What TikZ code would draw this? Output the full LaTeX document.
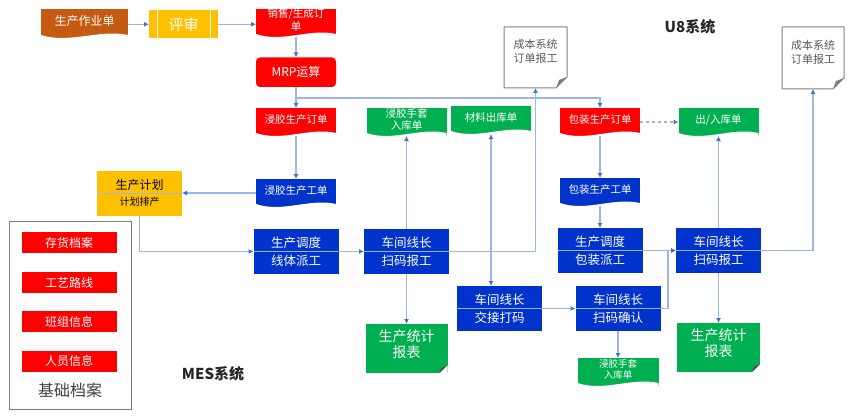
\documentclass[tikz,border=0pt]{standalone}
\usepackage{fontspec}
\setmainfont{Noto Sans CJK SC}
\usepackage{xcolor}
\usetikzlibrary{arrows.meta,calc,positioning}

\definecolor{brownfill}{HTML}{C55A11}
\definecolor{amberfill}{HTML}{FFC000}
\definecolor{redfill}{HTML}{FF0000}
\definecolor{bluefill}{HTML}{0033CC}
\definecolor{greenfill}{HTML}{00B050}
\definecolor{linkblue}{HTML}{9DB7E4}
\definecolor{tipblue}{HTML}{4472C4}
\definecolor{edgegray}{HTML}{7F7F7F}

\newcommand{\fsz}[1]{\fontsize{#1}{#1}\selectfont}

\begin{document}
\begin{tikzpicture}[
    x=1pt, y=-1pt,
    inner sep=0pt, outer sep=0pt,
    card/.style={rectangle, align=center, text=white, font=\fsz{10.5}, minimum width=80pt, minimum height=28pt},
    wavecard/.style={card, text depth=6pt, path picture={
        \coordinate (sw) at (path picture bounding box.south west);
        \coordinate (se) at (path picture bounding box.south east);
        \fill[white] ([yshift=3pt]sw) .. controls ($(sw)!.33!(se)+(0,6)$) and ($(sw)!.67!(se)+(0,-9)$) .. ([yshift=3pt]se) -- (se) -- (sw) -- cycle;
    }},
    twoline/.style={rectangle, align=center, text=white, font=\fsz{12.5}, fill=bluefill, minimum width=85pt, minimum height=45pt, path picture={
        \draw[linkblue, line width=1pt] (path picture bounding box.west) -- (path picture bounding box.east);
    }},
    report/.style={rectangle, align=center, text=white, font=\fsz{14}, text depth=9pt, fill=greenfill, minimum width=83pt, minimum height=49pt, path picture={
        \coordinate (se) at (path picture bounding box.south east);
        \fill[white] ([yshift=8pt]se) -- ([xshift=-8pt]se) -- (se) -- cycle;
        \fill[black!70] ([yshift=8pt]se) -- ([xshift=-8pt]se) -- ([xshift=-6pt,yshift=5pt]se) -- cycle;
    }},
    archive/.style={rectangle, text=white, font=\fsz{12}, fill=redfill, minimum width=95pt, minimum height=21pt},
    costnote/.style={rectangle, align=center, text=black!65, font=\fsz{11}, text depth=13pt, minimum width=63pt, minimum height=61pt},
    link/.style={linkblue, line width=1.3pt, -{Latex[length=5pt,width=5pt,color=tipblue]}},
    title/.style={font=\fsz{15}\bfseries, text=black!85}
]
    % Top row
    \node[wavecard, fill=brownfill, minimum width=87pt, minimum height=29pt, font=\fsz{12}] (prodjob) at (84.5,23.5) {生产作业单};
    \node[card, fill=amberfill, minimum width=69pt, minimum height=28.5pt, font=\fsz{15}] (review) at (183.5,24.25) {评审};
    \draw[white, line width=0.8pt] ([xshift=8.5pt]review.north west) -- ([xshift=8.5pt]review.south west);
    \draw[white, line width=0.8pt] ([xshift=-8pt]review.north east) -- ([xshift=-8pt]review.south east);
    \node[wavecard, fill=redfill] (sales) at (296,23) {销售/生成订\\[1.5pt]单};

    % Left column
    \node[card, fill=redfill, rounded corners=4pt, font=\fsz{12}, minimum height=29.5pt, below=20.5pt of sales] (mrp) {MRP运算};
    \node[wavecard, fill=redfill, below=21pt of mrp] (diporder) {浸胶生产订单};
    \node[wavecard, fill=bluefill, below=43pt of diporder] (dipjob) {浸胶生产工单};
    \node[twoline, fill=amberfill, text=black] (plan) at (139.5,193) {\fsz{12}生产计划\\[4pt]\fsz{10}计划排产};
    \node[twoline, below=22pt of dipjob] (sched1) {生产调度\\[6pt]线体派工};

    % Dipping line
    \node[twoline, right=25.5pt of sched1] (lead1) {车间线长\\[6pt]扫码报工};
    \node[wavecard, fill=greenfill] (dipstock) at (406.5,122) {浸胶手套\\[1.5pt]入库单};
    \node[report, minimum width=82pt, below=50pt of lead1] (stat1) {生产统计\\[2pt]报表};
    \node[wavecard, fill=greenfill] (material) at (491,120) {材料出库单};
    \node[twoline] (handover) at (499.5,308.5) {车间线长\\[6pt]交接打码};
    \node[twoline, right=33.5pt of handover] (confirm) {车间线长\\[6pt]扫码确认};
    \node[wavecard, fill=greenfill, font=\fsz{9.5}, minimum width=81pt] (lowstock) at (618,372) {浸胶手套\\[2pt]入库单};

    % Packing line
    \node[wavecard, fill=redfill] (packorder) at (600,122) {包装生产订单};
    \node[wavecard, fill=bluefill, below=42pt of packorder] (packjob) {包装生产工单};
    \node[twoline, below=22pt of packjob] (sched2) {生产调度\\[6pt]包装派工};
    \node[twoline] (lead2) at (718.5,250.5) {车间线长\\[6pt]扫码报工};
    \node[wavecard, fill=greenfill] (stock) at (718.5,122) {出/入库单};
    \node[report, below=50pt of lead2] (stat2) {生产统计\\[2pt]报表};

    % Cost notes
    \node[costnote] (cost1) at (535.5,57.5) {成本系统\\[3pt]订单报工};
    \node[costnote, minimum width=62pt, minimum height=62pt] (cost2) at (813,58) {成本系统\\[3pt]订单报工};
    \foreach \n in {cost1,cost2} {
        \draw[edgegray, line width=1pt, line join=round] (\n.north west) -- (\n.north east) -- ([yshift=11pt]\n.south east) -- ([xshift=-11pt]\n.south east) -- (\n.south west) -- cycle;
        \fill[edgegray] ([yshift=11pt]\n.south east) -- ([xshift=-11pt]\n.south east) -- ([xshift=-8pt,yshift=8pt]\n.south east) -- cycle;
    }

    % Base data
    \node[rectangle, draw=edgegray, line width=1pt, minimum width=121.5pt, minimum height=187.5pt] (base) at (70.25,315.25) {};
    \node[archive] (stockfile) at (69,242.5) {存货档案};
    \node[archive, below=19pt of stockfile] (routefile) {工艺路线};
    \node[archive, below=18pt of routefile] (teamfile) {班组信息};
    \node[archive, below=18.5pt of teamfile] (staff) {人员信息};
    \node[font=\fsz{16}, text=black!75] (basetitle) at (70,390) {基础档案};

    % System titles
    \node[title] (u8) at (690,27) {U8系统};
    \node[title] (mes) at (213,374) {MES系统};

    % Connectors
    \coordinate (branch) at (296,98);
    \draw[link] (prodjob.east |- review.west) -- (review.west);
    \draw[link] (review.east) -- (sales.west |- review.east);
    \draw[link] (sales.south) -- (mrp.north);
    \draw[link] (mrp.south) -- (diporder.north);
    \draw[link] (branch) -| (packorder.north);
    \draw[link] (diporder.south) -- (dipjob.north);
    \draw[link] (dipjob.west) -- (plan.east);
    \draw[link] (plan.south) |- (sched1.west);
    \draw[link] (sched1.east) -- (lead1.west);
    \draw[link] (lead1.north) -- (dipstock.south);
    \draw[link] (lead1.south) -- (stat1.north);
    \draw[link] (lead1.east) -| (cost1.south);
    \draw[link, {Latex[length=5pt,width=5pt,color=tipblue]}-{Latex[length=5pt,width=5pt,color=tipblue]}] (material.south) -- (material.south |- handover.north);
    \draw[link] (handover.east) -- (confirm.west);
    \draw[link] (confirm.south) -- (lowstock.north);
    \draw[link] (confirm.east) -- ++(7.5,0) |- (lead2.west);
    \draw[link] (packorder.south) -- (packjob.north);
    \draw[link] (packjob.south) -- (sched2.north);
    \draw[link] (sched2.east) -- (lead2.west);
    \draw[link, dashed] (packorder.east) -- (stock.west);
    \draw[link] (lead2.north) -- (stock.south);
    \draw[link] (lead2.south) -- (stat2.north);
    \draw[link] (lead2.east) -| (cost2.south);

    \useasboundingbox (0,0) rectangle (850,417);
\end{tikzpicture}
\end{document}
